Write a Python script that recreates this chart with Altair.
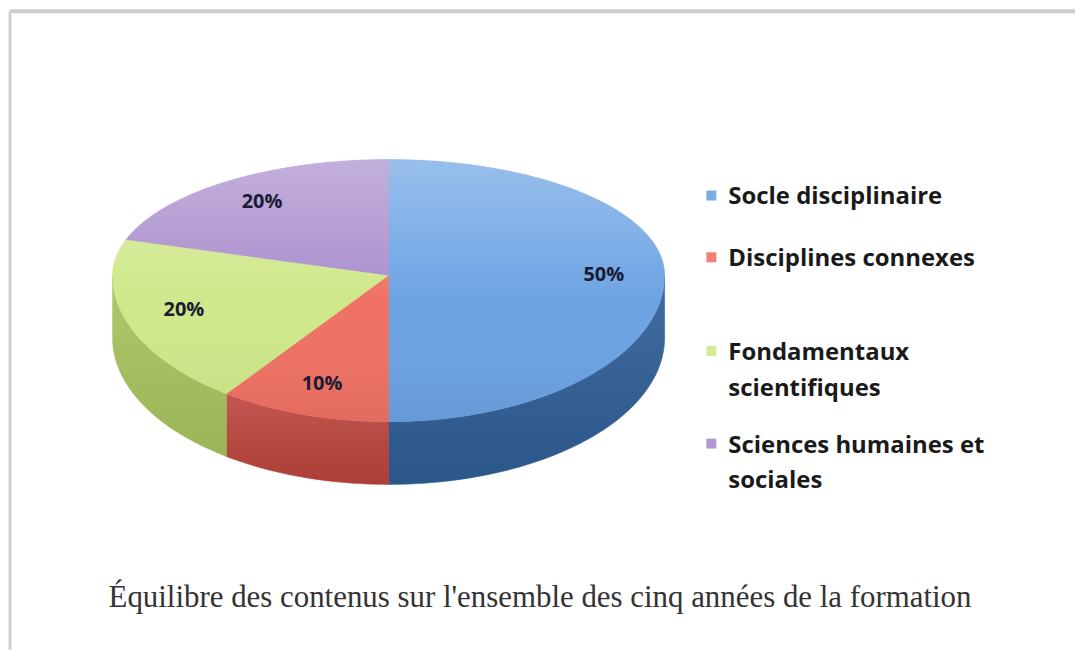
import math
import altair as alt
import pandas as pd

# ---------------- data ----------------
categories = [
    "Socle disciplinaire",
    "Disciplines connexes",
    "Fondamentaux scientifiques",
    "Sciences humaines et sociales",
]
shares = [50, 10, 20, 20]
legend_lines = [
    ["Socle disciplinaire"],
    ["Disciplines connexes"],
    ["Fondamentaux", "scientifiques"],
    ["Sciences humaines et", "sociales"],
]
caption = "Équilibre des contenus sur l'ensemble des cinq années de la formation"

# ---------------- style / layout ----------------
slice_colors = ["#6ca3e3", "#ef7264", "#cfe88a", "#a98dcc"]
side_colors = ["#2f5e96", "#bb453c", "#a8c45e", "#7c62a0"]
W, H = 1069, 641
CX, CY = 380, 265
RX, RY_BACK, RY_FRONT = 277, 116, 147
DEPTH = 63
LABEL_F = 0.78
LEGEND_SWATCH_X, LEGEND_TEXT_X = 704, 721
LEGEND_Y = [187, 249, 343, 436]
LEGEND_LINE_H = 36


def rim(a_deg, drop=0.0):
    a = math.radians(a_deg)
    c = math.cos(a)
    ry = RY_BACK if c > 0 else RY_FRONT
    return CX + RX * math.sin(a), CY - ry * c + drop


total = sum(shares)
top_rows, side_rows, label_rows = [], [], []
cum = 0
for cat, v in zip(categories, shares):
    a0 = 360.0 * cum / total
    cum += v
    a1 = 360.0 * cum / total
    n = max(6, int((a1 - a0) / 1.5))
    pts = [(CX, CY)] + [rim(a0 + (a1 - a0) * j / n) for j in range(n + 1)]
    for i, (x, y) in enumerate(pts):
        top_rows.append({"cat": cat, "i": i, "x": x, "y": y})
    s0, s1 = max(a0, 90.0), min(a1, 270.0)
    if s1 > s0:
        m = max(6, int((s1 - s0) / 1.5))
        upper = [rim(s0 + (s1 - s0) * j / m) for j in range(m + 1)]
        lower = [rim(s0 + (s1 - s0) * j / m, DEPTH) for j in range(m, -1, -1)]
        for i, (x, y) in enumerate(upper + lower):
            side_rows.append({"side": cat, "i": i, "x": x, "y": y})
    am = math.radians((a0 + a1) / 2)
    c = math.cos(am)
    ry = RY_BACK if c > 0 else RY_FRONT
    label_rows.append({
        "cat": cat,
        "x": CX + RX * LABEL_F * math.sin(am),
        "y": CY - ry * LABEL_F * c,
        "txt": f"{round(100 * v / total)}%",
    })

ellipse_rows = []
for i in range(0, 241):
    x, y = rim(360.0 * i / 240)
    ellipse_rows.append({"i": i, "x": x, "y": y})

legend_rows, swatch_rows = [], []
for k, (cat, lines) in enumerate(zip(categories, legend_lines)):
    swatch_rows.append({"cat": cat, "x": LEGEND_SWATCH_X, "y": LEGEND_Y[k] - 2})
    for j, line in enumerate(lines):
        legend_rows.append({"x": LEGEND_TEXT_X, "y": LEGEND_Y[k] + j * LEGEND_LINE_H, "txt": line})

top_df = pd.DataFrame(top_rows)
side_df = pd.DataFrame(side_rows)
label_df = pd.DataFrame(label_rows)
ell_df = pd.DataFrame(ellipse_rows)
leg_df = pd.DataFrame(legend_rows)
sw_df = pd.DataFrame(swatch_rows)

xs = alt.X("x:Q", scale=alt.Scale(domain=[0, W], nice=False, zero=False), axis=None)
ys = alt.Y("y:Q", scale=alt.Scale(domain=[0, H], nice=False, zero=False, reverse=True), axis=None)
fill_scale = alt.Scale(domain=categories, range=slice_colors)
side_scale = alt.Scale(domain=categories, range=side_colors)

sides = alt.Chart(side_df).mark_line(interpolate="linear-closed", strokeWidth=0.6).encode(
    x=xs, y=ys,
    fill=alt.Fill("side:N", scale=side_scale, legend=None),
    stroke=alt.Stroke("side:N", scale=side_scale, legend=None),
    order="i:Q",
)
side_shine = alt.Chart(side_df).mark_line(
    interpolate="linear-closed", strokeOpacity=0,
    fill=alt.Gradient(
        gradient="linear",
        stops=[
            alt.GradientStop(color="rgba(255,255,255,0.10)", offset=0),
            alt.GradientStop(color="rgba(0,0,0,0.08)", offset=1),
        ],
        x1=0, x2=0, y1=0, y2=1,
    ),
).encode(x=xs, y=ys, detail="side:N", order="i:Q")

tops = alt.Chart(top_df).mark_line(interpolate="linear-closed", strokeWidth=0.6).encode(
    x=xs, y=ys,
    fill=alt.Fill("cat:N", scale=fill_scale, legend=None),
    stroke=alt.Stroke("cat:N", scale=fill_scale, legend=None),
    order="i:Q",
)
gloss = alt.Chart(ell_df).mark_line(
    interpolate="linear-closed", strokeOpacity=0,
    fill=alt.Gradient(
        gradient="linear",
        stops=[
            alt.GradientStop(color="rgba(255,255,255,0.30)", offset=0),
            alt.GradientStop(color="rgba(255,255,255,0.0)", offset=0.55),
            alt.GradientStop(color="rgba(0,0,0,0.06)", offset=1),
        ],
        x1=0, x2=0, y1=0, y2=1,
    ),
).encode(x=xs, y=ys, order="i:Q")

labels = alt.Chart(label_df).mark_text(
    font="Open Sans", fontWeight="bold", fontSize=20, color="#1b1b33",
    align="center", baseline="middle",
).encode(x=xs, y=ys, text="txt:N")

swatches = alt.Chart(sw_df).mark_square(size=100, opacity=0.9).encode(
    x=xs, y=ys, fill=alt.Fill("cat:N", scale=fill_scale, legend=None)
)
legend_text = alt.Chart(leg_df).mark_text(
    font="Open Sans", fontWeight="bold", fontSize=24, color="#1a1a1a",
    align="left", baseline="middle",
).encode(x=xs, y=ys, text="txt:N")

cap = alt.Chart(pd.DataFrame({"txt": [caption]})).mark_text(
    font="Liberation Serif", fontSize=31, color="#333333", align="center", baseline="middle",
).encode(x=alt.value(532), y=alt.value(589), text="txt:N")

frame_top = alt.Chart(pd.DataFrame({"k": [0]})).mark_rule(color="#cccccc", strokeWidth=4).encode(
    x=alt.value(0), x2=alt.value(W), y=alt.value(0)
)
frame_left = alt.Chart(pd.DataFrame({"k": [0]})).mark_rule(color="#cfcfcf", strokeWidth=3).encode(
    x=alt.value(0), y=alt.value(0), y2=alt.value(H)
)

chart = alt.layer(
    sides, side_shine, tops, gloss, labels, swatches, legend_text, cap, frame_top, frame_left
).resolve_scale(
    fill="independent", stroke="independent"
).properties(
    width=W, height=H, padding=0, background="white"
).configure_view(stroke=None)

chart.save("out.html", embed_options={"renderer": "svg", "actions": False})
